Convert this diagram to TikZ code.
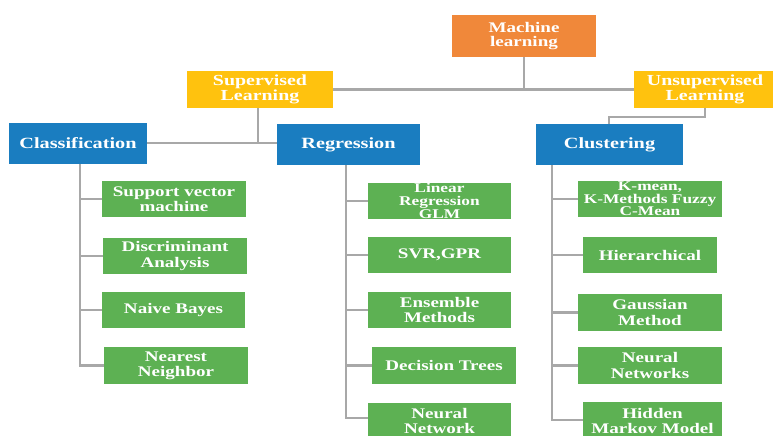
\documentclass[tikz,border=0pt]{standalone}
\usepackage{fontspec}
\setmainfont[FakeStretch=1.3]{Liberation Serif}
\definecolor{mlorange}{HTML}{F0883A}
\definecolor{learnyellow}{HTML}{FFC20E}
\definecolor{taskblue}{HTML}{1A7DC0}
\definecolor{algogreen}{HTML}{5DB153}
\definecolor{linkgray}{HTML}{A8A8A8}
\tikzset{
  px/.style 2 args={minimum width=#1*0.75pt, minimum height=#2*0.75pt},
  base/.style={inner sep=0pt, align=center, text=white},
  rootbox/.style={base, fill=mlorange, font=\bfseries\fontsize{11}{11}\selectfont},
  learnbox/.style={base, fill=learnyellow, font=\bfseries\fontsize{11.5}{11.5}\selectfont},
  taskbox/.style={base, fill=taskblue, font=\bfseries\fontsize{11.7}{13}\selectfont},
  algobox/.style={base, fill=algogreen, font=\bfseries\fontsize{11}{11.3}\selectfont},
  smallalgo/.style={algobox, font=\bfseries\fontsize{10}{9.5}\selectfont},
  link/.style={draw=linkgray, line width=2.2pt}
}
\begin{document}
\begin{tikzpicture}[x=0.75pt, y=-0.75pt]
\useasboundingbox[fill=white] (0,0) rectangle (773,435);

% junction points of the connectors
\coordinate (sj) at (258,143);
\coordinate (uj1) at (705,117);
\coordinate (uj2) at (609,117);
\coordinate (csp) at (80,164);
\coordinate (rsp) at (346,165);
\coordinate (usp) at (552,165);

% top levels
\node[rootbox, px={144}{42}] (ml) at (524,36) {Machine\\learning};
\node[learnbox, px={146}{37}] (sup) at (260,89.5) {Supervised\\Learning};
\node[learnbox, px={142}{37}] (uns) at (705,89.5) {Unsupervised\\Learning};

% tasks
\node[taskbox, px={138}{41}] (cls) at (78,143.5) {Classification};
\node[taskbox, px={143}{41}] (reg) at (348.5,144.5) {Regression};
\node[taskbox, px={147}{41}] (clu) at (609.5,144.5) {Clustering};

% classification algorithms
\node[algobox, px={144}{36}] (svm) at (174,199) {Support vector\\machine};
\node[algobox, px={144}{36}] (da) at (175,256) {Discriminant\\Analysis};
\node[algobox, px={143}{36}] (nb) at (173.5,310) {Naive Bayes};
\node[algobox, px={144}{37}] (nn) at (176,365.5) {Nearest\\Neighbor};

% regression algorithms
\node[smallalgo, px={143}{36}] (lr) at (439.5,201) {Linear\\Regression\\GLM};
\node[algobox, px={143}{36}] (svr) at (439.5,255) {SVR,GPR};
\node[algobox, px={143}{36}] (ens) at (439.5,310) {Ensemble\\Methods};
\node[algobox, px={144}{37}] (dt) at (444,365.5) {Decision Trees};
\node[algobox, px={143}{36}] (nnet) at (439.5,421) {Neural\\Network};

% clustering algorithms
\node[smallalgo, px={144}{36}] (km) at (650,199) {K-mean,\\K-Methods Fuzzy\\C-Mean};
\node[algobox, px={134}{36}] (hier) at (650,255) {Hierarchical};
\node[algobox, px={144}{37}] (gm) at (650,312.5) {Gaussian\\Method};
\node[algobox, px={144}{37}] (nnw) at (650,365.5) {Neural\\Networks};
\node[algobox, px={139}{38}] (hmm) at (652.5,421) {Hidden\\Markov Model};

% connectors
\draw[link] (ml.south) |- (sup.east);
\draw[link] (ml.south) |- (uns.west);
\draw[link] (sup.south -| sj) -- (sj);
\draw[link] (cls.east |- sj) -- (sj) -- (reg.west |- sj);
\draw[link] (uns.south -| uj1) -- (uj1) -- (uj2) -- (clu.north -| uj2);

\foreach \n in {svm,da,nb,nn} \draw[link] (csp) |- (\n.west);
\foreach \n in {lr,svr,ens,dt} \draw[link] (rsp) |- (\n.west);
\draw[link] (rsp) -- (rsp |- 0,418) -- (nnet.west |- 0,418);
\foreach \n in {km,hier,gm,nnw} \draw[link] (usp) |- (\n.west);
\draw[link] (usp) -- (usp |- 0,420) -- (hmm.west |- 0,420);
\end{tikzpicture}
\end{document}
